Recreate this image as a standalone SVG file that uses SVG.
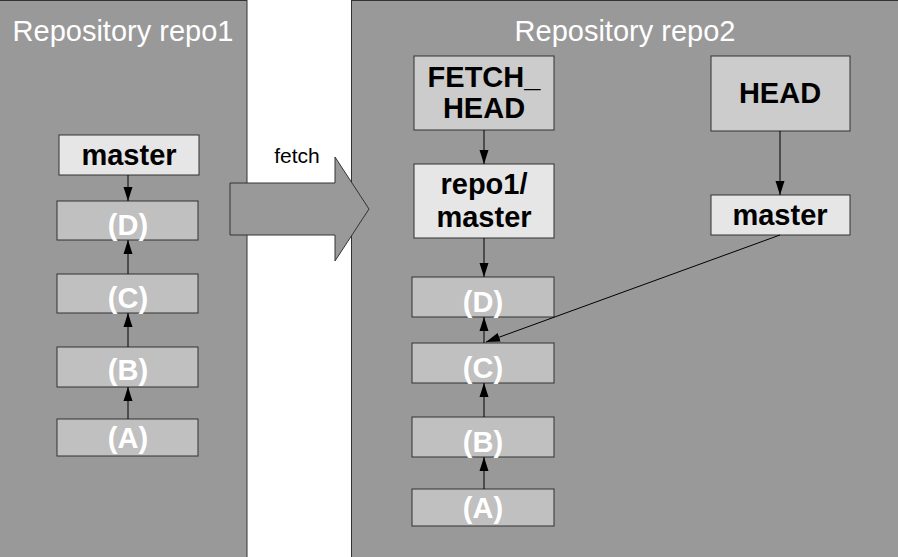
<svg xmlns="http://www.w3.org/2000/svg" width="898" height="557" viewBox="0 0 898 557">
<style>
.panel{fill:#999999;stroke:#333333;stroke-width:1}
.title{font-family:"Liberation Sans",Arial,sans-serif;font-size:29px;fill:#ffffff;text-anchor:middle}
.ref{fill:#e6e6e6;stroke:#333333;stroke-width:1}
.sym{fill:#cccccc;stroke:#333333;stroke-width:1}
.commit{fill:#c0c0c0;stroke:#333333;stroke-width:1}
.lbl{font-family:"Liberation Sans",Arial,sans-serif;font-size:29px;font-weight:bold;fill:#000000;text-anchor:middle}
.clbl{font-family:"Liberation Sans",Arial,sans-serif;font-size:29px;font-weight:bold;fill:#ffffff;text-anchor:middle}
.edge{stroke:#000000;stroke-width:1;fill:none;marker-end:url(#ah)}
</style>
<defs>
<marker id="ah" markerUnits="userSpaceOnUse" markerWidth="14" markerHeight="10" refX="14" refY="5" orient="auto">
<path d="M0,0.5 L14,5 L0,9.5 Z" fill="#000000"/>
</marker>
</defs>
<rect width="898" height="557" fill="#ffffff"/>
<g id="panel-repo1">
<rect class="panel" x="-1" y="0.5" width="248" height="560"/>
<text class="title" x="123" y="41">Repository repo1</text>
</g>
<g id="panel-repo2">
<rect class="panel" x="351.5" y="0.5" width="550" height="560"/>
<text class="title" x="625" y="41">Repository repo2</text>
</g>
<g id="fetch-arrow">
<polygon points="230,183 335,183 335,157 369,209 335,261 335,235 230,235" fill="#999999" stroke="#333333" stroke-width="1"/>
<text x="297" y="163" font-family="Liberation Sans, Arial, sans-serif" font-size="21" fill="#000000" text-anchor="middle">fetch</text>
</g>
<g id="r1-master"><rect class="ref" x="59" y="135" width="140" height="40"/><text class="lbl" x="129" y="165">master</text></g>
<g id="r1-D"><rect class="commit" x="57" y="201" width="141" height="39"/><text class="clbl" x="128" y="235">(D)</text></g>
<g id="r1-C"><rect class="commit" x="57" y="274" width="141" height="39"/><text class="clbl" x="128" y="308">(C)</text></g>
<g id="r1-B"><rect class="commit" x="57" y="347" width="141" height="40"/><text class="clbl" x="128" y="380">(B)</text></g>
<g id="r1-A"><rect class="commit" x="57" y="419" width="141" height="37"/><text class="clbl" x="128" y="448">(A)</text></g>
<g id="r2-fetchhead"><rect class="sym" x="414" y="56" width="140" height="74"/><text class="lbl" x="484" y="87">FETCH_</text><text class="lbl" x="484" y="118">HEAD</text></g>
<g id="r2-repo1master"><rect class="ref" x="414" y="164" width="140" height="74"/><text class="lbl" x="484" y="194">repo1/</text><text class="lbl" x="484" y="227">master</text></g>
<g id="r2-D"><rect class="commit" x="412" y="277" width="142" height="40"/><text class="clbl" x="483" y="312">(D)</text></g>
<g id="r2-C"><rect class="commit" x="412" y="343" width="142" height="40"/><text class="clbl" x="483" y="378">(C)</text></g>
<g id="r2-B"><rect class="commit" x="412" y="417" width="142" height="40"/><text class="clbl" x="483" y="452">(B)</text></g>
<g id="r2-A"><rect class="commit" x="412" y="489" width="142" height="37"/><text class="clbl" x="483" y="518">(A)</text></g>
<g id="r2-head"><rect class="sym" x="711" y="56" width="139" height="75"/><text class="lbl" x="780" y="103">HEAD</text></g>
<g id="r2-master"><rect class="ref" x="711" y="195" width="139" height="40"/><text class="lbl" x="780" y="225">master</text></g>
<g id="connectors">
<line class="edge" x1="128" y1="175" x2="128" y2="201"/>
<line class="edge" x1="128" y1="274" x2="128" y2="240"/>
<line class="edge" x1="128" y1="347" x2="128" y2="313"/>
<line class="edge" x1="128" y1="419" x2="128" y2="387"/>
<line class="edge" x1="484" y1="130" x2="484" y2="164"/>
<line class="edge" x1="484" y1="238" x2="484" y2="277"/>
<line class="edge" x1="484" y1="343" x2="484" y2="317"/>
<line class="edge" x1="484" y1="417" x2="484" y2="383"/>
<line class="edge" x1="484" y1="489" x2="484" y2="457"/>
<line class="edge" x1="780" y1="131" x2="780" y2="195"/>
<line class="edge" x1="780" y1="235" x2="486" y2="342"/>
</g>
</svg>
